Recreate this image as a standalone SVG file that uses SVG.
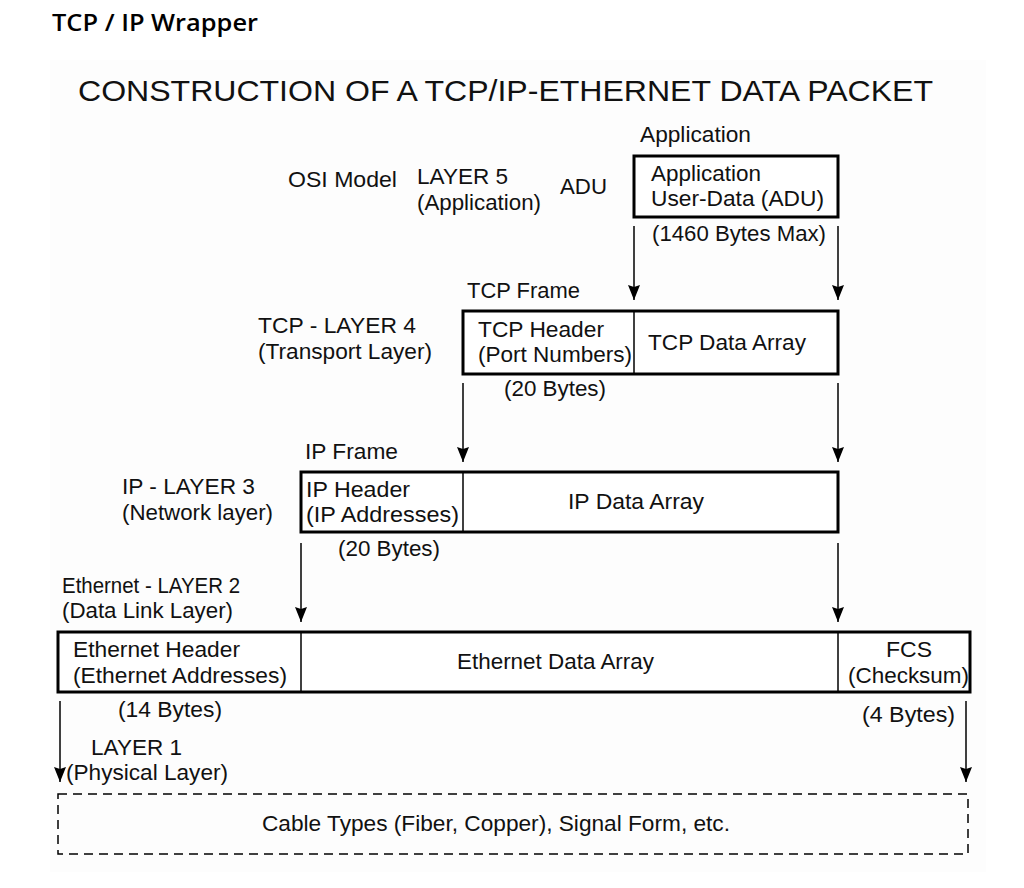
<svg xmlns="http://www.w3.org/2000/svg" width="1024" height="888" viewBox="0 0 1024 888">
<defs>
<marker id="ah" markerWidth="15" markerHeight="12" refX="15" refY="6" orient="auto" markerUnits="userSpaceOnUse" viewBox="0 0 15 12">
<path d="M0,0 L2,6 L0,12 L15,6 Z" fill="#000"/>
</marker>
<style>
text{font-family:"Liberation Sans",Arial,sans-serif;font-size:22px;fill:#111}
.title{font-family:"Open Sans","Noto Sans",sans-serif;font-weight:600;font-size:24px;fill:#000}
.h{font-size:30px}
.box{fill:#fff;stroke:#000;stroke-width:3}
.div{stroke:#000;stroke-width:1.5}
.arr{stroke:#000;stroke-width:1.5;fill:none;marker-end:url(#ah)}
.dash{fill:none;stroke:#000;stroke-width:1.5;stroke-dasharray:9 6}
</style>
</defs>
<rect width="1024" height="888" fill="#fff"/>
<rect x="50" y="60" width="936" height="812" fill="#fdfdfd"/>
<text class="title" x="52" y="31" textLength="206" lengthAdjust="spacingAndGlyphs">TCP / IP Wrapper</text>
<text class="h" x="78" y="101" textLength="855" lengthAdjust="spacingAndGlyphs">CONSTRUCTION OF A TCP/IP-ETHERNET DATA PACKET</text>

<g id="labels">
<text x="288" y="187" textLength="109" lengthAdjust="spacingAndGlyphs">OSI Model</text>
<text x="417" y="184" textLength="91" lengthAdjust="spacingAndGlyphs">LAYER 5</text>
<text x="417" y="210" textLength="124" lengthAdjust="spacingAndGlyphs">(Application)</text>
<text x="560" y="194" textLength="47" lengthAdjust="spacingAndGlyphs">ADU</text>
<text x="258" y="333" textLength="158" lengthAdjust="spacingAndGlyphs">TCP - LAYER 4</text>
<text x="258" y="359" textLength="174" lengthAdjust="spacingAndGlyphs">(Transport Layer)</text>
<text x="122" y="494" textLength="133" lengthAdjust="spacingAndGlyphs">IP - LAYER 3</text>
<text x="122" y="520" textLength="151" lengthAdjust="spacingAndGlyphs">(Network layer)</text>
<text x="62" y="593" textLength="178" lengthAdjust="spacingAndGlyphs">Ethernet - LAYER 2</text>
<text x="62" y="618" textLength="171" lengthAdjust="spacingAndGlyphs">(Data Link Layer)</text>
<text x="91" y="755" textLength="91" lengthAdjust="spacingAndGlyphs">LAYER 1</text>
<text x="66" y="780" textLength="162" lengthAdjust="spacingAndGlyphs">(Physical Layer)</text>
</g>

<g id="app">
<text x="640" y="142" textLength="111" lengthAdjust="spacingAndGlyphs">Application</text>
<rect class="box" x="634" y="156" width="204" height="61"/>
<text x="651" y="181" textLength="110" lengthAdjust="spacingAndGlyphs">Application</text>
<text x="651" y="206" textLength="173" lengthAdjust="spacingAndGlyphs">User-Data (ADU)</text>
<text x="652" y="241" textLength="174" lengthAdjust="spacingAndGlyphs">(1460 Bytes Max)</text>
</g>

<g id="tcp">
<text x="467" y="298" textLength="113" lengthAdjust="spacingAndGlyphs">TCP Frame</text>
<rect class="box" x="463" y="311" width="375" height="63"/>
<line class="div" x1="634" y1="311" x2="634" y2="374"/>
<text x="478" y="337" textLength="126" lengthAdjust="spacingAndGlyphs">TCP Header</text>
<text x="478" y="362" textLength="154" lengthAdjust="spacingAndGlyphs">(Port Numbers)</text>
<text x="648" y="350" textLength="158" lengthAdjust="spacingAndGlyphs">TCP Data Array</text>
<text x="504" y="396" textLength="102" lengthAdjust="spacingAndGlyphs">(20 Bytes)</text>
</g>

<g id="ip">
<text x="305" y="459" textLength="93" lengthAdjust="spacingAndGlyphs">IP Frame</text>
<rect class="box" x="301" y="472" width="537" height="60"/>
<line class="div" x1="463" y1="472" x2="463" y2="532"/>
<text x="306" y="497" textLength="104" lengthAdjust="spacingAndGlyphs">IP Header</text>
<text x="306" y="522" textLength="153" lengthAdjust="spacingAndGlyphs">(IP Addresses)</text>
<text x="568" y="509" textLength="136" lengthAdjust="spacingAndGlyphs">IP Data Array</text>
<text x="338" y="556" textLength="102" lengthAdjust="spacingAndGlyphs">(20 Bytes)</text>
</g>

<g id="ethernet">
<rect class="box" x="58" y="632" width="912" height="60"/>
<line class="div" x1="301" y1="632" x2="301" y2="692"/>
<line class="div" x1="838" y1="632" x2="838" y2="692"/>
<text x="73" y="657" textLength="167" lengthAdjust="spacingAndGlyphs">Ethernet Header</text>
<text x="73" y="683" textLength="214" lengthAdjust="spacingAndGlyphs">(Ethernet Addresses)</text>
<text x="457" y="669" textLength="197" lengthAdjust="spacingAndGlyphs">Ethernet Data Array</text>
<text x="886" y="657" textLength="46" lengthAdjust="spacingAndGlyphs">FCS</text>
<text x="848" y="683" textLength="121" lengthAdjust="spacingAndGlyphs">(Checksum)</text>
<text x="118" y="717" textLength="104" lengthAdjust="spacingAndGlyphs">(14 Bytes)</text>
<text x="862" y="722" textLength="93" lengthAdjust="spacingAndGlyphs">(4 Bytes)</text>
</g>

<g id="physical">
<rect class="dash" x="58" y="794" width="910" height="60"/>
<text x="262" y="831" textLength="468" lengthAdjust="spacingAndGlyphs">Cable Types (Fiber, Copper), Signal Form, etc.</text>
</g>

<g id="connectors">
<line class="arr" x1="634" y1="226" x2="634" y2="300"/>
<line class="arr" x1="838" y1="226" x2="838" y2="300"/>
<line class="arr" x1="463" y1="383" x2="463" y2="462"/>
<line class="arr" x1="838" y1="383" x2="838" y2="462"/>
<line class="arr" x1="301" y1="543" x2="301" y2="622"/>
<line class="arr" x1="838" y1="543" x2="838" y2="622"/>
<line class="arr" x1="60" y1="701" x2="60" y2="782"/>
<line class="arr" x1="966" y1="701" x2="966" y2="782"/>
</g>
</svg>
